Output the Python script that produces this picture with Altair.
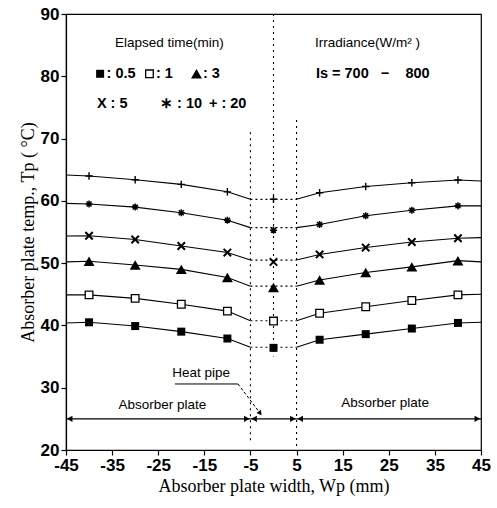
import altair as alt
import pandas as pd

# ---------------- data ----------------
x_pos = [-40, -30, -20, -10, 0, 10, 20, 30, 40]
t_05 = [40.5, 39.9, 39.0, 37.9, 36.4, 37.7, 38.6, 39.5, 40.4]
t_1 = [44.9, 44.35, 43.4, 42.3, 40.7, 41.95, 43.0, 44.0, 44.9]
t_3 = [50.3, 49.7, 49.0, 47.7, 46.1, 47.3, 48.5, 49.4, 50.4]
t_5 = [54.4, 53.8, 52.75, 51.7, 50.2, 51.4, 52.5, 53.4, 54.0]
t_10 = [59.5, 59.0, 58.1, 56.9, 55.3, 56.2, 57.6, 58.5, 59.2]
t_20 = [64.0, 63.4, 62.65, 61.45, 60.25, 61.3, 62.3, 62.9, 63.35]

series_names = ["0.5", "1", "3", "5", "10", "20"]
series_vals = [t_05, t_1, t_3, t_5, t_10, t_20]
# curve values at the plate edges (x=-45 / x=45) and at the heat-pipe walls (x=±5)
edge_left = [40.4, 44.9, 50.2, 54.35, 59.6, 64.15]
edge_right = [40.5, 45.0, 50.2, 54.1, 59.2, 63.2]
pipe_level = [36.5, 40.75, 46.3, 50.5, 55.7, 60.25]

x_ticks = [-45, -35, -25, -15, -5, 5, 15, 25, 35, 45]
y_ticks = [20, 30, 40, 50, 60, 70, 80, 90]

# ---------------- tables ----------------
solid_rows, dot_rows, pt_rows = [], [], []
for name, vals, el, er, pl in zip(series_names, series_vals, edge_left, edge_right, pipe_level):
    lx = [-45, -40, -30, -20, -10, -5]
    ly = [el] + vals[0:4] + [pl]
    rx = [5, 10, 20, 30, 40, 45]
    ry = [pl] + vals[5:9] + [er]
    for i, (a, b) in enumerate(zip(lx, ly)):
        solid_rows.append({"x": a, "y": b, "seg": name + "L", "o": i})
    for i, (a, b) in enumerate(zip(rx, ry)):
        solid_rows.append({"x": a, "y": b, "seg": name + "R", "o": i})
    dot_rows.append({"x": -5, "y": pl, "seg": name, "o": 0})
    dot_rows.append({"x": 5, "y": pl, "seg": name, "o": 1})
    for a, b in zip(x_pos, vals):
        pt_rows.append({"x": a, "y": b, "s": name})

solid_df = pd.DataFrame(solid_rows)
dot_df = pd.DataFrame(dot_rows)
pt_df = pd.DataFrame(pt_rows)

X = alt.X("x:Q", scale=alt.Scale(domain=[-45, 45], nice=False, zero=False),
          axis=alt.Axis(values=x_ticks, title="Absorber plate width, Wp (mm)", grid=False,
                        labelExpr="'' + datum.value", labelFlush=False))
Y = alt.Y("y:Q", scale=alt.Scale(domain=[20, 90], nice=False, zero=False),
          axis=alt.Axis(values=y_ticks, title="Absorber plate temp., Tp ( °C)", grid=False,
                        labelExpr="'' + datum.value", titleX=-33, titleY=218, titleAngle=-90,
                        titleAlign="center", titleBaseline="alphabetic"))

layers = []
layers.append(alt.Chart(solid_df).mark_line(color="black", strokeWidth=1.1).encode(
    x=X, y=Y, detail="seg:N", order="o:Q"))
layers.append(alt.Chart(dot_df).mark_line(color="black", strokeWidth=1.2, strokeDash=[2, 3]).encode(
    x=X, y=Y, detail="seg:N", order="o:Q"))

# vertical dotted guide lines (heat pipe)
vl_x = [-5, 0, 5]
vl_top = [71, 90, 73]
vl_bot = [21.5, 35, 20]
vl_rows = []
for i, (a, t, b) in enumerate(zip(vl_x, vl_top, vl_bot)):
    vl_rows.append({"x": a, "y": t, "g": i})
    vl_rows.append({"x": a, "y": b, "g": i})
layers.append(alt.Chart(pd.DataFrame(vl_rows)).mark_line(color="black", strokeWidth=1.1, strokeDash=[2, 4]).encode(
    x=X, y=Y, detail="g:N"))

# markers
X_PATH = "M-1,-1L1,1M-1,1L1,-1"
AST_PATH = "M-1,0L1,0M0,-1L0,1M-0.7,-0.7L0.7,0.7M-0.7,0.7L0.7,-0.7"
PLUS_PATH = "M-1,0L1,0M0,-1L0,1"
marker_specs = {
    "0.5": dict(shape="square", filled=True, size=64, color="black"),
    "1": dict(shape="square", filled=True, size=58, fill="white", stroke="black", strokeWidth=1.3),
    "3": dict(shape="triangle-up", filled=True, size=120, color="black"),
    "5": dict(shape=X_PATH, filled=False, size=55, color="black", strokeWidth=2),
    "10": dict(shape=AST_PATH, filled=False, size=50, color="black", strokeWidth=1.5),
    "20": dict(shape=PLUS_PATH, filled=False, size=55, color="black", strokeWidth=1.4),
}
for name in series_names:
    sub = pt_df[pt_df["s"] == name]
    layers.append(alt.Chart(sub).mark_point(opacity=1, **marker_specs[name]).encode(x=X, y=Y))

# in-plot legend
row1_y = 80.4
row2_y = 75.6
head_y = 85.3
leg_sym_df = pd.DataFrame({"x": [-37.6, -26.9, -16.7], "y": [row1_y] * 3, "s": ["0.5", "1", "3"]})
for name in ["0.5", "1", "3"]:
    sub = leg_sym_df[leg_sym_df["s"] == name]
    layers.append(alt.Chart(sub).mark_point(opacity=1, **marker_specs[name]).encode(x=X, y=Y))

legend_texts = [": 0.5", ": 1", ": 3", "X : 5", "∗ : 10", "+ : 20"]
legend_tx = [-36.2, -25.5, -15.3, -38.3, -24.6, -14.0]
legend_ty = [row1_y] * 3 + [row2_y] * 3
layers.append(alt.Chart(pd.DataFrame({"x": legend_tx, "y": legend_ty, "t": legend_texts})).mark_text(
    align="left", baseline="middle", font="Liberation Sans", fontSize=14.5, fontWeight="bold", color="black"
).encode(x=X, y=Y, text="t:N"))

head_texts = ["Elapsed time(min)", "Irradiance(W/m² )"]
head_tx = [-34.4, 9.0]
head_ty = [head_y, head_y]
layers.append(alt.Chart(pd.DataFrame({"x": head_tx, "y": head_ty, "t": head_texts})).mark_text(
    align="left", baseline="middle", font="Liberation Sans", fontSize=13.5, color="black"
).encode(x=X, y=Y, text="t:N"))

layers.append(alt.Chart(pd.DataFrame({"x": [9.2], "y": [row1_y],
                                      "t": ["Is = 700\u00a0\u00a0\u00a0−\u00a0\u00a0\u00a0\u00a0800"]})).mark_text(
    align="left", baseline="middle", font="Liberation Sans", fontSize=14.5, fontWeight="bold", color="black"
).encode(x=X, y=Y, text="t:N"))

# dimension lines at T = 25
dim_rows = []
dim_a = [-45, -5, 5]
dim_b = [-5, 5, 45]
for i, (a, b) in enumerate(zip(dim_a, dim_b)):
    dim_rows.append({"x": a, "y": 25, "g": i})
    dim_rows.append({"x": b, "y": 25, "g": i})
layers.append(alt.Chart(pd.DataFrame(dim_rows)).mark_line(color="black", strokeWidth=1.1).encode(
    x=X, y=Y, detail="g:N"))

arr_left_x = [-44.2, -4.2, 5.8]
arr_right_x = [-5.8, 4.2, 44.2]
layers.append(alt.Chart(pd.DataFrame({"x": arr_left_x, "y": [25] * 3})).mark_point(
    shape="triangle-left", filled=True, size=40, color="black", opacity=1).encode(x=X, y=Y))
layers.append(alt.Chart(pd.DataFrame({"x": arr_right_x, "y": [25] * 3})).mark_point(
    shape="triangle-right", filled=True, size=40, color="black", opacity=1).encode(x=X, y=Y))

# labels
lab_texts = ["Absorber plate", "Absorber plate", "Heat pipe"]
lab_x = [-24.1, 24.2, -15.7]
lab_y = [27.3, 27.5, 32.4]
layers.append(alt.Chart(pd.DataFrame({"x": lab_x, "y": lab_y, "t": lab_texts})).mark_text(
    align="center", baseline="middle", font="Liberation Sans", fontSize=13.5, color="black"
).encode(x=X, y=Y, text="t:N"))

# heat pipe leader
lead1 = pd.DataFrame({"x": [-21.4, -7.7], "y": [30.6, 30.6]})
lead2 = pd.DataFrame({"x": [-7.7, -3.2], "y": [30.6, 26.2]})
layers.append(alt.Chart(lead1).mark_line(color="black", strokeWidth=1).encode(x=X, y=Y))
layers.append(alt.Chart(lead2).mark_line(color="black", strokeWidth=1, strokeDash=[3, 2]).encode(x=X, y=Y))
layers.append(alt.Chart(pd.DataFrame({"x": [-2.9], "y": [25.9]})).mark_point(
    shape="triangle-up", angle=144, filled=True, size=30, color="black", opacity=1).encode(x=X, y=Y))

chart = alt.layer(*layers).properties(
    width=415, height=436,
    autosize=alt.AutoSizeParams(type="none"),
    padding={"left": 66, "top": 14, "right": 16, "bottom": 58},
    background="white",
).configure_view(stroke="black", strokeWidth=1.2).configure_axis(
    domainColor="black", tickColor="black", labelColor="black", titleColor="black",
    tickSize=5, domainWidth=1.2, tickWidth=1.2,
    labelFont="Liberation Sans", labelFontSize=17, labelFontWeight="bold",
    titleFont="Liberation Serif", titleFontSize=18, titleFontWeight="normal",
).configure_axisX(labelPadding=2, titlePadding=4).configure_axisY(labelPadding=2)

chart.save("out.html", embed_options={"renderer": "svg", "actions": False})
